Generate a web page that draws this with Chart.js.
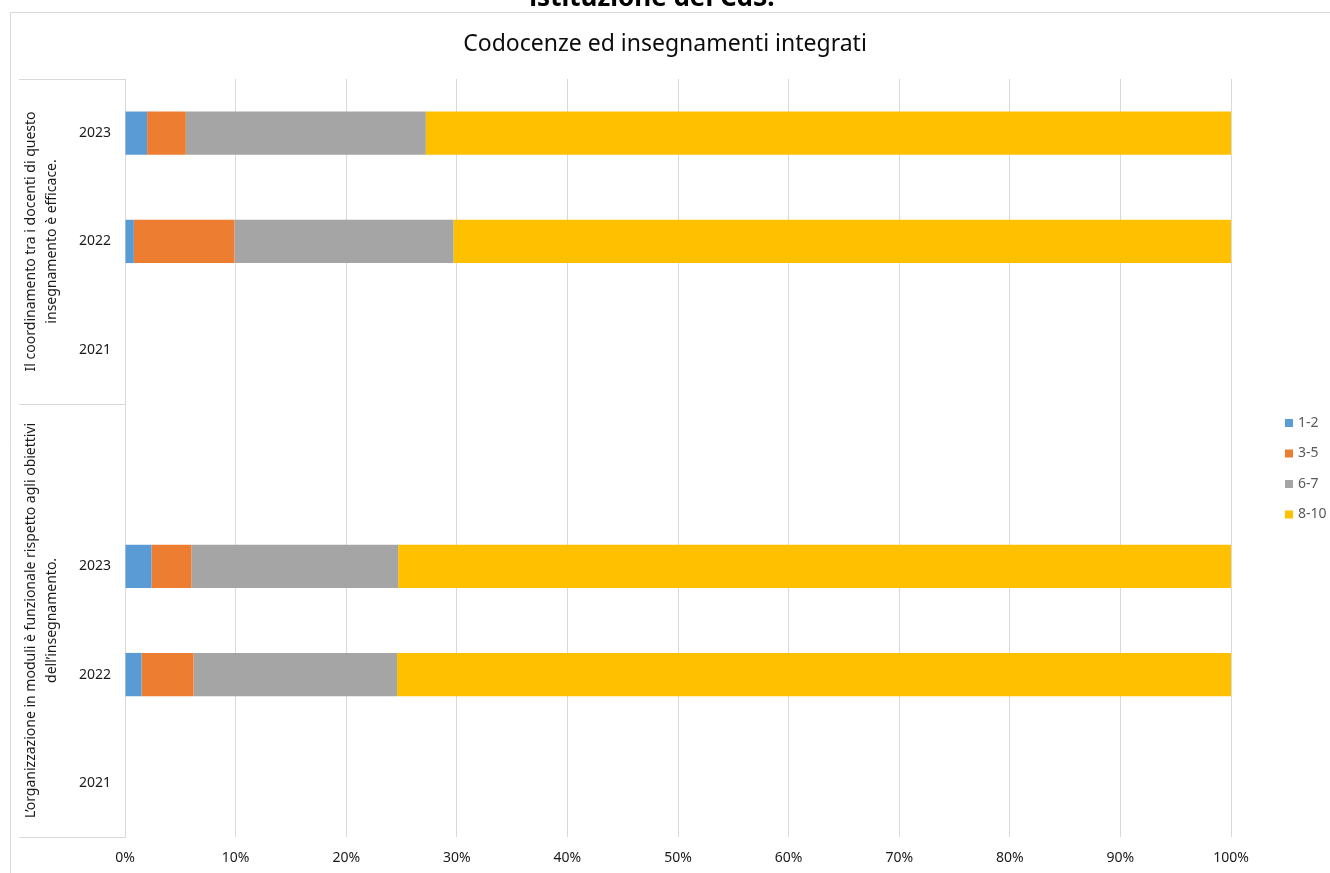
<!DOCTYPE html>
<html>
<head>
<meta charset="utf-8">
<script src="https://cdn.jsdelivr.net/npm/chart.js@4.4.1/dist/chart.umd.min.js"></script>
<style>
  html, body { margin: 0; padding: 0; background: #fff; }
  #wrap { width: 1330px; height: 873px; }
</style>
</head>
<body>
<div id="wrap"><canvas id="chart" width="1330" height="873"></canvas></div>
<script>
// years on the category axis (top to bottom), one blank row between the two questions
const categories = ['2023', '2022', '2021', '', '2023', '2022', '2021'];

// question labels and the rows they cover
const groupLabels = [
  ['Il coordinamento tra i docenti di questo', 'insegnamento è efficace.'],
  ['L’organizzazione in moduli è funzionale rispetto agli obiettivi', 'dell’insegnamento.']
];
const groupRows = [[0, 2], [3, 6]];

// percentages per score band
const band12  = [2.0, 0.8, null, null, 2.4, 1.5, null];
const band35  = [3.5, 9.1, null, null, 3.6, 4.7, null];
const band67  = [21.7, 19.8, null, null, 18.7, 18.4, null];
const band810 = [72.8, 70.3, null, null, 75.3, 75.4, null];

const seriesNames = ['1-2', '3-5', '6-7', '8-10'];
const seriesColors = ['#5B9BD5', '#ED7D31', '#A5A5A5', '#FFC000'];
const xTicks = [0, 10, 20, 30, 40, 50, 60, 70, 80, 90, 100];

const FONT = '"Noto Sans", "Open Sans", sans-serif';

// frame, titles, question labels and legend
const decorations = {
  id: 'decorations',
  beforeDraw(chart) {
    const c = chart.ctx;
    c.save();
    c.strokeStyle = '#d9d9d9';
    c.lineWidth = 1;
    c.beginPath();
    c.moveTo(1330, 12.5);
    c.lineTo(10.5, 12.5);
    c.lineTo(10.5, 873);
    c.stroke();
    c.restore();
  },
  afterDraw(chart) {
    const c = chart.ctx;
    const area = chart.chartArea;
    c.save();

    // heading of the page above, only its lower part shows
    c.fillStyle = '#000';
    c.font = 'bold 26px ' + FONT;
    c.textAlign = 'center';
    c.textBaseline = 'alphabetic';
    c.fillText('istituzione del CdS.', 652, 6);

    // chart title
    c.font = '23px ' + FONT;
    c.textBaseline = 'middle';
    c.fillStyle = '#0d0d0d';
    c.fillText('Codocenze ed insegnamenti integrati', 665, 44);

    // group boxes on the category axis
    const slot = (area.bottom - area.top) / categories.length;
    c.strokeStyle = '#d9d9d9';
    c.lineWidth = 1;
    const edges = [0, groupRows[1][0], categories.length];
    edges.forEach(k => {
      const yy = Math.round(area.top + k * slot) + 0.5;
      c.beginPath();
      c.moveTo(19, yy);
      c.lineTo(area.left, yy);
      c.stroke();
    });

    // rotated question labels
    c.fillStyle = '#1a1a1a';
    c.font = '14px ' + FONT;
    groupRows.forEach((r, i) => {
      const top = area.top + r[0] * slot;
      const bottom = area.top + (r[1] + 1) * slot;
      const cy = (top + bottom) / 2;
      const lines = groupLabels[i];
      c.save();
      c.translate(42, cy);
      c.rotate(-Math.PI / 2);
      c.textAlign = 'center';
      c.textBaseline = 'middle';
      lines.forEach((t, j) => {
        c.fillText(t, 0, (j - (lines.length - 1) / 2) * 21);
      });
      c.restore();
    });

    // legend
    c.font = '14px ' + FONT;
    c.textAlign = 'left';
    c.textBaseline = 'middle';
    chart.data.datasets.forEach((ds, i) => {
      const ly = 423 + i * 30.5;
      c.fillStyle = ds.backgroundColor;
      c.fillRect(1285, ly - 4, 8, 8);
      c.fillStyle = '#595959';
      c.fillText(ds.label, 1298, ly);
    });
    c.restore();
  }
};

const values = [band12, band35, band67, band810];

new Chart(document.getElementById('chart').getContext('2d'), {
  type: 'bar',
  data: {
    labels: categories,
    datasets: seriesNames.map((name, i) => ({
      label: name,
      data: values[i],
      backgroundColor: seriesColors[i],
      borderWidth: 0,
      barPercentage: 0.4,
      categoryPercentage: 1.0
    }))
  },
  options: {
    indexAxis: 'y',
    responsive: false,
    animation: false,
    layout: { padding: { top: 79, right: 99, bottom: 0, left: 0 } },
    plugins: {
      legend: { display: false },
      title: { display: false },
      tooltip: { enabled: false }
    },
    scales: {
      x: {
        stacked: true,
        min: 0,
        max: 100,
        afterBuildTicks(scale) {
          scale.ticks = xTicks.map(v => ({ value: v }));
        },
        afterFit(scale) { scale.height = 36; },
        grid: { color: '#d9d9d9', lineWidth: 1, drawTicks: false },
        border: { display: false },
        ticks: {
          padding: 13,
          color: '#1a1a1a',
          font: { family: FONT, size: 14 },
          callback: v => v + '%'
        }
      },
      y: {
        stacked: true,
        afterFit(scale) { scale.width = 125; },
        grid: { display: false, drawTicks: false },
        border: { display: true, color: '#d9d9d9', width: 1 },
        ticks: {
          padding: 14,
          color: '#1a1a1a',
          autoSkip: false,
          font: { family: FONT, size: 14 }
        }
      }
    }
  },
  plugins: [decorations]
});
</script>
</body>
</html>
